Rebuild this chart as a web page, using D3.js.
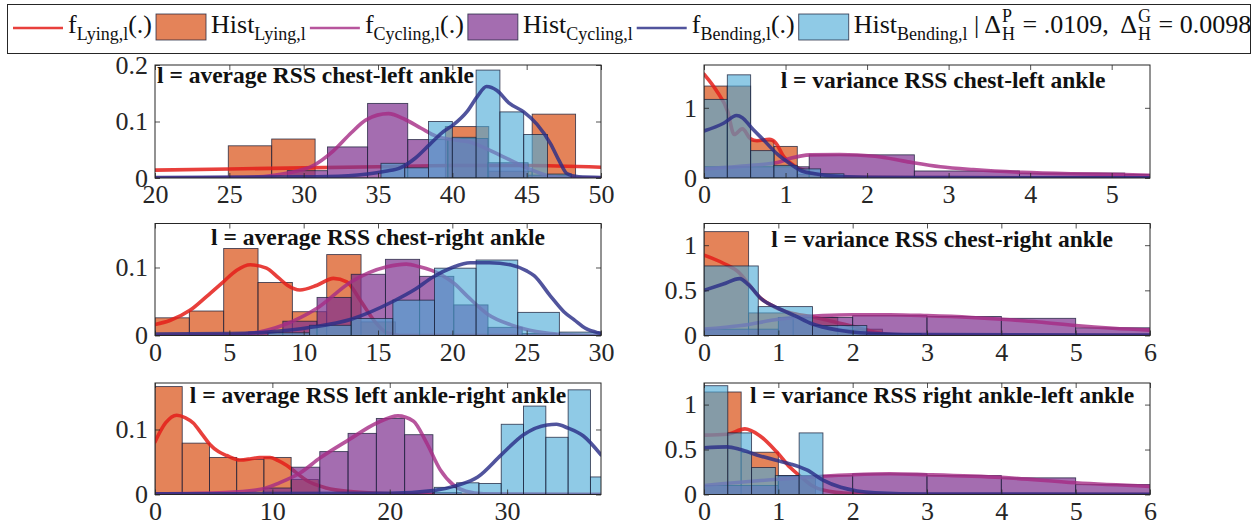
<!DOCTYPE html>
<html>
<head>
<meta charset="utf-8">
<script src="https://cdn.jsdelivr.net/npm/d3@7"></script>
<style>
  html, body { margin: 0; padding: 0; background: #fff; }
  svg { display: block; }
  text { font-family: "Liberation Serif", "Times New Roman", serif; }
</style>
</head>
<body>
<svg id="chart" width="1257" height="531"></svg>
<script>
// ---------------- data ----------------
const panelTitles = [
  "l = average RSS chest-left ankle",
  "l = variance RSS chest-left ankle",
  "l = average RSS chest-right ankle",
  "l = variance RSS chest-right ankle",
  "l = average RSS left ankle-right ankle",
  "l = variance RSS right ankle-left ankle"
];

// axis limits and ticks
const p1XDomain = [20, 50],   p1YDomain = [0, 0.2];
const p2XDomain = [0, 5.47],  p2YDomain = [0, 1.61];
const p3XDomain = [0, 30],    p3YDomain = [0, 0.1647];
const p4XDomain = [0, 6],     p4YDomain = [0, 1.24];
const p5XDomain = [0, 38],    p5YDomain = [0, 0.1715];
const p6XDomain = [0, 6],     p6YDomain = [0, 1.24];

const p1XTicks = [20, 25, 30, 35, 40, 45, 50], p1YTicks = [0, 0.1, 0.2];
const p2XTicks = [0, 1, 2, 3, 4, 5],           p2YTicks = [0, 1];
const p3XTicks = [0, 5, 10, 15, 20, 25, 30],   p3YTicks = [0, 0.1];
const p4XTicks = [0, 1, 2, 3, 4, 5, 6],        p4YTicks = [0, 0.5, 1];
const p5XTicks = [0, 10, 20, 30],              p5YTicks = [0, 0.1];
const p6XTicks = [0, 1, 2, 3, 4, 5, 6],        p6YTicks = [0, 0.5, 1];

// panel 1: average RSS chest-left ankle
const p1LyingEdges = [24.93, 27.85, 30.77, 33.69, 36.61, 39.53, 42.45, 45.37, 48.29];
const p1LyingHeights = [0.057, 0.069, 0, 0, 0, 0.091, 0.012, 0.113];
const p1LyingPdf = [[20,0.014],[25,0.016],[30,0.018],[35,0.02],[40,0.022],[45,0.022],[50,0.019]];
const p1CyclingEdges = [28.9, 31.6, 34.3, 37.0, 39.7, 42.4, 45.1, 47.8];
const p1CyclingHeights = [0.013, 0.055, 0.132, 0.068, 0.07, 0.027, 0.005];
const p1CyclingPdf = [[20,0],[26,0.001],[28,0.005],[29.5,0.012],[30.5,0.02],[32,0.048],[33.2,0.08],[34.2,0.103],[35.7,0.114],[36.8,0.104],[37.9,0.088],[38.9,0.074],[40,0.068],[41.1,0.064],[42.2,0.053],[43.4,0.038],[45,0.018],[46.6,0.003],[48,0],[50,0]];
const p1BendingEdges = [35.2, 36.8, 38.4, 40.0, 41.6, 43.2, 44.8, 46.4, 48.0];
const p1BendingHeights = [0.026, 0.018, 0.100, 0.072, 0.191, 0.117, 0.077, 0.007];
const p1BendingPdf = [[20,0.001],[30,0.002],[33,0.004],[34.3,0.007],[35.5,0.012],[36.5,0.018],[37.5,0.035],[38.5,0.06],[39.3,0.08],[40.06,0.094],[41,0.118],[41.7,0.145],[42.3,0.162],[43,0.155],[43.8,0.133],[44.8,0.117],[45.7,0.095],[46.6,0.061],[47.2,0.03],[47.7,0.008],[48.5,0.002],[50,0.001]];

// panel 2: variance RSS chest-left ankle
const p2LyingEdges = [0, 0.286, 0.572, 0.858, 1.144, 1.43];
const p2LyingHeights = [1.31, 1.31, 0.53, 0.45, 0.05];
const p2LyingPdf = [[0,1.48],[0.15,1.25],[0.29,0.95],[0.37,0.62],[0.47,0.7],[0.57,0.56],[0.65,0.53],[0.8,0.55],[0.88,0.5],[0.98,0.3],[1.1,0.18],[1.3,0.08],[1.45,0.03],[1.7,0.01],[2.5,0.005],[5.47,0.003]];
const p2CyclingEdges = [0, 1.29, 2.58, 3.87, 5.16, 6.45];
const p2CyclingHeights = [0.16, 0.33, 0.1, 0.07, 0.05];
const p2CyclingPdf = [[0,0.13],[0.58,0.18],[0.9,0.22],[1.06,0.28],[1.3,0.33],[1.66,0.335],[2.1,0.31],[2.5,0.23],[2.9,0.16],[3.3,0.12],[3.9,0.08],[4.5,0.06],[5.15,0.05],[5.47,0.04]];
const p2BendingEdges = [0, 0.286, 0.572, 0.858, 1.144, 1.43, 1.716];
const p2BendingHeights = [1.12, 1.47, 0.39, 0.18, 0.13, 0.06];
const p2BendingPdf = [[0,0.67],[0.24,0.78],[0.4,0.89],[0.47,0.86],[0.58,0.72],[0.74,0.53],[0.9,0.34],[1.06,0.2],[1.2,0.1],[1.36,0.06],[1.55,0.03],[2,0.01],[3,0.005],[5.47,0.003]];

// panel 3: average RSS chest-right ankle
const p3LyingEdges = [0, 2.31, 4.62, 6.93, 9.24, 11.55, 13.86, 16.17];
const p3LyingHeights = [0.026, 0.036, 0.128, 0.078, 0.035, 0.119, 0.02];
const p3LyingPdf = [[0,0.016],[1,0.022],[2.35,0.037],[3.5,0.058],[4.6,0.079],[5.5,0.096],[6.4,0.104],[7.5,0.099],[8.3,0.085],[8.9,0.074],[9.75,0.067],[10.9,0.074],[12.0,0.084],[12.9,0.079],[13.8,0.052],[14.7,0.023],[15.6,0.004],[16.5,0],[30,0]];
const p3CyclingEdges = [6.3, 8.6, 10.9, 13.2, 15.5, 17.8, 20.1, 22.4, 24.7, 27.0];
const p3CyclingHeights = [0.005, 0.021, 0.056, 0.09, 0.112, 0.087, 0.045, 0.012, 0.003];
const p3CyclingPdf = [[0,0],[5,0.001],[7,0.005],[8.6,0.015],[10.9,0.04],[13.2,0.079],[15.6,0.101],[16.9,0.105],[17.8,0.101],[19.2,0.09],[20.1,0.077],[21,0.058],[22.4,0.031],[23.9,0.016],[24.8,0.01],[26.6,0.003],[28,0.001],[30,0]];
const p3BendingEdges = [7.6, 10.4, 13.2, 16.0, 18.8, 21.6, 24.4, 27.2, 30.0];
const p3BendingHeights = [0.004, 0.015, 0.025, 0.052, 0.099, 0.111, 0.034, 0.005];
const p3BendingPdf = [[0,0.002],[5,0.003],[7.6,0.005],[10.5,0.012],[13.2,0.024],[16,0.05],[17.5,0.068],[18.7,0.086],[20,0.1],[21.2,0.107],[22.5,0.107],[23.9,0.104],[25,0.095],[25.5,0.088],[26.6,0.058],[27.5,0.035],[28.2,0.023],[29,0.01],[29.8,0.004],[30,0.003]];

// panel 4: variance RSS chest-right ankle
const p4LyingEdges = [0, 0.6, 1.2, 1.8, 2.4];
const p4LyingHeights = [1.15, 0.25, 0.2, 0.07];
const p4LyingPdf = [[0,0.89],[0.26,0.8],[0.48,0.69],[0.6,0.57],[0.74,0.43],[0.94,0.32],[1.17,0.25],[1.44,0.21],[1.7,0.16],[2.06,0.09],[2.33,0.03],[2.6,0.005],[3,0],[6,0]];
const p4CyclingEdges = [0, 1, 2, 3, 4, 5, 6];
const p4CyclingHeights = [0.07, 0.2, 0.22, 0.21, 0.19, 0.085];
const p4CyclingPdf = [[0,0.07],[0.5,0.11],[1,0.18],[1.6,0.22],[2,0.23],[2.5,0.23],[3,0.22],[3.6,0.2],[4,0.18],[4.5,0.15],[5,0.11],[5.5,0.08],[6,0.06]];
const p4BendingEdges = [0, 0.73, 1.46, 2.19, 2.92];
const p4BendingHeights = [0.77, 0.32, 0.11, 0.02];
const p4BendingPdf = [[0,0.5],[0.26,0.57],[0.48,0.63],[0.6,0.56],[0.78,0.4],[1.0,0.3],[1.22,0.22],[1.45,0.13],[1.8,0.06],[2.1,0.03],[2.9,0.01],[6,0.005]];

// panel 5: average RSS left ankle-right ankle
const p5LyingEdges = [0, 2.32, 4.64, 6.96, 9.28, 11.6, 13.92];
const p5LyingHeights = [0.166, 0.079, 0.057, 0.054, 0.057, 0.023];
const p5LyingPdf = [[0,0.081],[0.9,0.11],[1.85,0.122],[2.6,0.118],[3.26,0.11],[4.0,0.093],[4.68,0.077],[5.4,0.066],[6.1,0.06],[7.24,0.053],[8.2,0.055],[8.9,0.057],[9.8,0.057],[10.5,0.052],[11.2,0.045],[12.0,0.034],[12.9,0.022],[14.6,0.01],[16.9,0.004],[20,0.001],[24,0],[38,0]];
const p5CyclingEdges = [9.22, 11.63, 14.04, 16.45, 18.86, 21.27, 23.68, 26.09];
const p5CyclingHeights = [0.01, 0.042, 0.066, 0.094, 0.117, 0.092, 0.003];
const p5CyclingPdf = [[0,0.001],[6,0.003],[9,0.008],[10.6,0.018],[12.35,0.033],[14.05,0.056],[16.5,0.084],[18.9,0.11],[20.7,0.121],[22.0,0.113],[23.1,0.081],[24.3,0.038],[25.4,0.015],[26.5,0.005],[28,0.001],[38,0]];
const p5BendingEdges = [23.8, 25.7, 27.6, 29.5, 31.4, 33.3, 35.2, 37.1, 39.0];
const p5BendingHeights = [0.011, 0.018, 0.017, 0.108, 0.136, 0.088, 0.161, 0.027];
const p5BendingPdf = [[0,0.001],[20,0.002],[23.7,0.006],[25.75,0.014],[27.5,0.027],[29.5,0.061],[31.4,0.092],[33.4,0.107],[34.2,0.108],[35.2,0.102],[36.5,0.09],[38,0.061]];

// panel 6: variance RSS right ankle-left ankle
const p6LyingEdges = [0, 0.5, 1.0, 1.5];
const p6LyingHeights = [1.14, 0.47, 0.2];
const p6LyingPdf = [[0,0.66],[0.31,0.67],[0.55,0.73],[0.74,0.66],[0.97,0.48],[1.16,0.3],[1.3,0.2],[1.45,0.1],[1.6,0.05],[2.0,0.01],[2.5,0],[6,0]];
const p6CyclingEdges = [0, 1, 2, 3, 4, 5, 6];
const p6CyclingHeights = [0.1, 0.21, 0.23, 0.21, 0.185, 0.11];
const p6CyclingPdf = [[0,0.1],[1,0.17],[2,0.22],[2.5,0.23],[3,0.22],[4,0.19],[5,0.13],[6,0.09]];
const p6BendingEdges = [0, 0.32, 0.64, 0.96, 1.28, 1.6];
const p6BendingHeights = [1.21, 0.685, 0.3, 0.21, 0.685];
const p6BendingPdf = [[0,0.52],[0.31,0.53],[0.49,0.5],[0.71,0.44],[0.97,0.38],[1.16,0.34],[1.39,0.27],[1.6,0.16],[1.84,0.08],[2.06,0.04],[2.3,0.02],[3,0.005],[6,0.003]];

// legend entries: text pieces are normal, subscript, or a stacked superscript|subscript pair
const legendEntries = [
  { cls: "lying",   icon: "line",  parts: [["f","n"],["Lying,l","sub"],["(.)","n"]] },
  { cls: "lying",   icon: "patch", parts: [["Hist","n"],["Lying,l","sub"]] },
  { cls: "cycling", icon: "line",  parts: [["f","n"],["Cycling,l","sub"],["(.)","n"]] },
  { cls: "cycling", icon: "patch", parts: [["Hist","n"],["Cycling,l","sub"]] },
  { cls: "bending", icon: "line",  parts: [["f","n"],["Bending,l","sub"],["(.)","n"]] },
  { cls: "bending", icon: "patch", parts: [["Hist","n"],["Bending,l","sub"],[" | \u0394","n"],["P|H","stack"],[" = .0109,  \u0394","n"],["G|H","stack"],[" = 0.0098","n"]] }
];

// ---------------- styles & layout ----------------
const styles = {
  lying:   { fill: "#D95319", fillAlpha: 0.72, line: "#E41E1A", lineAlpha: 0.85 },
  cycling: { fill: "#7E2F8E", fillAlpha: 0.70, line: "#A52A85", lineAlpha: 0.80 },
  bending: { fill: "#4AA9D6", fillAlpha: 0.62, line: "#2B2E88", lineAlpha: 0.82 }
};
const axisColor = "#262626";
const edgeColor = "#1a1f3a";
const cols = [[155, 601], [704, 1150]];
const rows = [[65, 178], [223.5, 335.5], [383, 494.5]];

const panels = [
  { col: 0, row: 0, xd: p1XDomain, yd: p1YDomain, xt: p1XTicks, yt: p1YTicks,
    lying: [p1LyingEdges, p1LyingHeights, p1LyingPdf], cycling: [p1CyclingEdges, p1CyclingHeights, p1CyclingPdf], bending: [p1BendingEdges, p1BendingHeights, p1BendingPdf],
    tx: 157, ty: 83, anchor: "start" },
  { col: 1, row: 0, xd: p2XDomain, yd: p2YDomain, xt: p2XTicks, yt: p2YTicks,
    lying: [p2LyingEdges, p2LyingHeights, p2LyingPdf], cycling: [p2CyclingEdges, p2CyclingHeights, p2CyclingPdf], bending: [p2BendingEdges, p2BendingHeights, p2BendingPdf],
    tx: 943, ty: 88, anchor: "middle" },
  { col: 0, row: 1, xd: p3XDomain, yd: p3YDomain, xt: p3XTicks, yt: p3YTicks,
    lying: [p3LyingEdges, p3LyingHeights, p3LyingPdf], cycling: [p3CyclingEdges, p3CyclingHeights, p3CyclingPdf], bending: [p3BendingEdges, p3BendingHeights, p3BendingPdf],
    tx: 378, ty: 245, anchor: "middle" },
  { col: 1, row: 1, xd: p4XDomain, yd: p4YDomain, xt: p4XTicks, yt: p4YTicks,
    lying: [p4LyingEdges, p4LyingHeights, p4LyingPdf], cycling: [p4CyclingEdges, p4CyclingHeights, p4CyclingPdf], bending: [p4BendingEdges, p4BendingHeights, p4BendingPdf],
    tx: 942, ty: 247, anchor: "middle" },
  { col: 0, row: 2, xd: p5XDomain, yd: p5YDomain, xt: p5XTicks, yt: p5YTicks,
    lying: [p5LyingEdges, p5LyingHeights, p5LyingPdf], cycling: [p5CyclingEdges, p5CyclingHeights, p5CyclingPdf], bending: [p5BendingEdges, p5BendingHeights, p5BendingPdf],
    tx: 378, ty: 403, anchor: "middle" },
  { col: 1, row: 2, xd: p6XDomain, yd: p6YDomain, xt: p6XTicks, yt: p6YTicks,
    lying: [p6LyingEdges, p6LyingHeights, p6LyingPdf], cycling: [p6CyclingEdges, p6CyclingHeights, p6CyclingPdf], bending: [p6BendingEdges, p6BendingHeights, p6BendingPdf],
    tx: 942, ty: 403, anchor: "middle" }
];

// ---------------- drawing ----------------
const svg = d3.select("#chart");
svg.append("rect").attr("width", 1257).attr("height", 531).attr("fill", "#fff");
const defs = svg.append("defs");

panels.forEach((p, i) => {
  const [x0, x1] = cols[p.col];
  const [y0, y1] = rows[p.row];
  const xs = d3.scaleLinear().domain(p.xd).range([x0, x1]);
  const ys = d3.scaleLinear().domain(p.yd).range([y1, y0]);
  const g = svg.append("g");

  defs.append("clipPath").attr("id", "clip" + i)
    .append("rect").attr("x", x0).attr("y", y0).attr("width", x1 - x0).attr("height", y1 - y0);
  const plot = g.append("g").attr("clip-path", `url(#clip${i})`);

  const line = d3.line().x(d => xs(d[0])).y(d => ys(d[1])).curve(d3.curveMonotoneX);

  ["lying", "cycling", "bending"].forEach(k => {
    const [edges, heights, pdf] = p[k];
    const st = styles[k];
    const bins = heights.map((h, j) => ({ a: edges[j], b: edges[j + 1], h })).filter(d => d.h > 0);
    plot.append("g").selectAll("rect").data(bins).join("rect")
      .attr("x", d => xs(d.a))
      .attr("width", d => xs(d.b) - xs(d.a))
      .attr("y", d => ys(d.h))
      .attr("height", d => ys(0) - ys(d.h))
      .attr("fill", st.fill).attr("fill-opacity", st.fillAlpha)
      .attr("stroke", edgeColor).attr("stroke-width", 0.9).attr("stroke-opacity", 0.8);
    plot.append("path").datum(pdf)
      .attr("d", line)
      .attr("fill", "none")
      .attr("stroke", st.line).attr("stroke-opacity", st.lineAlpha)
      .attr("stroke-width", 3.6).attr("stroke-linejoin", "round").attr("stroke-linecap", "round");
  });

  // axes with inward ticks on all four sides
  const ax = g.append("g");
  ax.append("g").attr("transform", `translate(0,${y1})`)
    .call(d3.axisBottom(xs).tickValues(p.xt).tickFormat(d => String(d)).tickSizeInner(-5).tickSizeOuter(0).tickPadding(7));
  ax.append("g").attr("transform", `translate(0,${y0})`)
    .call(d3.axisTop(xs).tickValues(p.xt).tickFormat("").tickSizeInner(-5).tickSizeOuter(0));
  ax.append("g").attr("transform", `translate(${x0},0)`)
    .call(d3.axisLeft(ys).tickValues(p.yt).tickFormat(d => String(d)).tickSizeInner(-5).tickSizeOuter(0).tickPadding(7));
  ax.append("g").attr("transform", `translate(${x1},0)`)
    .call(d3.axisRight(ys).tickValues(p.yt).tickFormat("").tickSizeInner(-5).tickSizeOuter(0));
  ax.selectAll(".domain").remove();
  ax.selectAll("line").attr("stroke", axisColor).attr("stroke-width", 0.8);
  ax.selectAll("text")
    .attr("font-family", '"Liberation Serif", "Times New Roman", serif')
    .attr("font-size", 26).attr("fill", axisColor);

  g.append("rect")
    .attr("x", x0).attr("y", y0).attr("width", x1 - x0).attr("height", y1 - y0)
    .attr("fill", "none").attr("stroke", axisColor).attr("stroke-width", 1);

  g.append("text")
    .attr("x", p.tx).attr("y", p.ty)
    .attr("text-anchor", p.anchor)
    .attr("font-size", 23.5).attr("font-weight", "bold").attr("fill", "#111")
    .text(panelTitles[i]);
});

// ---------------- legend ----------------
const lg = svg.append("g");
lg.append("rect")
  .attr("x", 7.5).attr("y", 4.5).attr("width", 1243).attr("height", 49)
  .attr("fill", "#fff").attr("stroke", axisColor).attr("stroke-width", 1);

const F = 26, S = 18, baseY = 33, iconW = 50;
let cx = 13;
function piece(txt, x, y, size) {
  const t = lg.append("text").attr("x", x).attr("y", y).attr("font-size", size)
    .attr("fill", "#111").style("white-space", "pre").text(txt);
  return t.node().getComputedTextLength();
}
legendEntries.forEach(e => {
  const st = styles[e.cls];
  if (e.icon === "line") {
    lg.append("line").attr("x1", cx).attr("x2", cx + iconW).attr("y1", 28).attr("y2", 28)
      .attr("stroke", st.line).attr("stroke-opacity", st.lineAlpha).attr("stroke-width", 2.5);
  } else {
    lg.append("rect").attr("x", cx).attr("y", 14).attr("width", iconW).attr("height", 26)
      .attr("fill", st.fill).attr("fill-opacity", st.fillAlpha)
      .attr("stroke", edgeColor).attr("stroke-opacity", 0.8).attr("stroke-width", 0.9);
  }
  cx += iconW + 5;
  e.parts.forEach(([txt, kind]) => {
    if (kind === "n") cx += piece(txt, cx, baseY, F);
    else if (kind === "sub") cx += piece(txt, cx, baseY + 7, S);
    else {
      const [sup, sub] = txt.split("|");
      const w1 = piece(sup, cx + 1, baseY - 11, S);
      const w2 = piece(sub, cx + 1, baseY + 7, S);
      cx += Math.max(w1, w2) + 2;
    }
  });
  cx += 4;
});
</script>
</body>
</html>
